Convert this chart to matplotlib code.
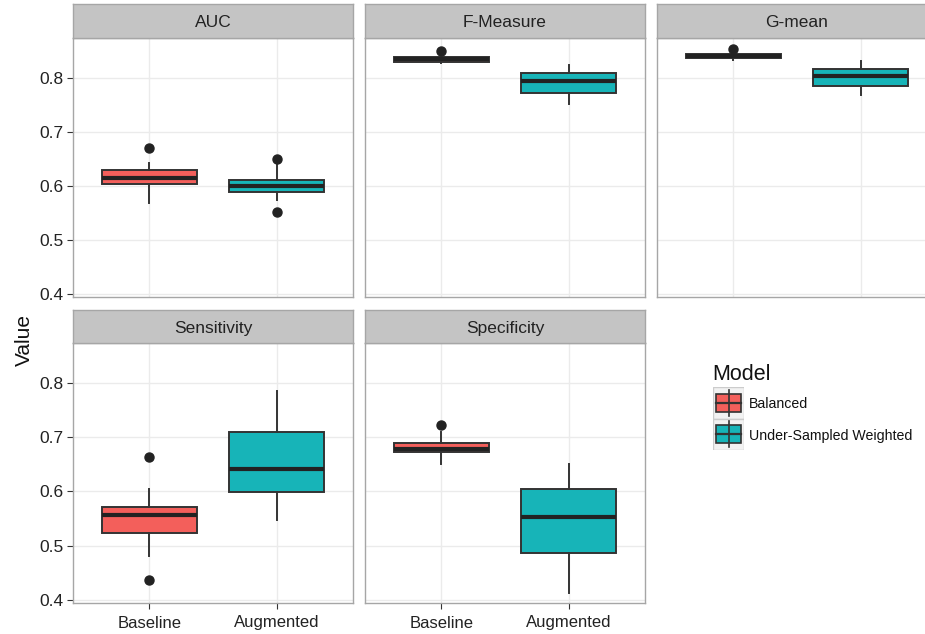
import matplotlib
matplotlib.use("Agg")
import matplotlib.pyplot as plt
from matplotlib.patches import Rectangle

plt.rcParams['font.family'] = ['Liberation Sans', 'DejaVu Sans']

metrics = ["AUC", "F-Measure", "G-mean", "Sensitivity", "Specificity"]
groups = ["Baseline", "Augmented"]
models = ["Balanced", "Under-Sampled Weighted"]
colors = ["#F35F5B", "#17B4B8"]

# five-number summaries per metric (Baseline / Balanced)
base_lo = [0.568, 0.827, 0.833, 0.480, 0.651]
base_q1 = [0.603, 0.830, 0.837, 0.524, 0.673]
base_med = [0.614, 0.835, 0.841, 0.556, 0.679]
base_q3 = [0.630, 0.839, 0.844, 0.572, 0.690]
base_hi = [0.643, 0.840, 0.845, 0.604, 0.709]
base_out = [[0.671], [0.849], [0.853], [0.664, 0.437], [0.722]]

# Augmented / Under-Sampled Weighted
aug_lo = [0.574, 0.752, 0.769, 0.548, 0.413]
aug_q1 = [0.588, 0.772, 0.785, 0.599, 0.486]
aug_med = [0.599, 0.794, 0.804, 0.642, 0.553]
aug_q3 = [0.611, 0.810, 0.817, 0.709, 0.604]
aug_hi = [0.638, 0.824, 0.831, 0.786, 0.651]
aug_out = [[0.649, 0.552], [], [], [], []]

yticks = [0.4, 0.5, 0.6, 0.7, 0.8]

W, H = 925, 634
fig = plt.figure(figsize=(W / 100, H / 100), dpi=100)


def px_axes(x0, y0, x1, y1):
    return fig.add_axes([x0 / W, 1 - y1 / H, (x1 - x0) / W, (y1 - y0) / H])


panel_x = [(73, 353), (365, 645), (657, 937), (73, 353), (365, 645)]
panel_y = [(4, 38, 297), (4, 38, 297), (4, 38, 297), (310, 343, 603), (310, 343, 603)]

border = "#A6A6A6"
for i, m in enumerate(metrics):
    x0, x1 = panel_x[i]
    ys, y0, y1 = panel_y[i]
    ax = px_axes(x0, y0, x1, y1)
    stats = [
        dict(whislo=base_lo[i], q1=base_q1[i], med=base_med[i], q3=base_q3[i],
             whishi=base_hi[i], fliers=base_out[i]),
        dict(whislo=aug_lo[i], q1=aug_q1[i], med=aug_med[i], q3=aug_q3[i],
             whishi=aug_hi[i], fliers=aug_out[i]),
    ]
    bp = ax.bxp(stats, positions=[1, 2], widths=0.75, patch_artist=True,
                showcaps=False,
                boxprops=dict(edgecolor="#333333", linewidth=1.4),
                whiskerprops=dict(color="#333333", linewidth=1.4),
                medianprops=dict(color="#222222", linewidth=3),
                flierprops=dict(marker="o", markersize=6.5, markerfacecolor="#222222",
                                markeredgecolor="#222222"))
    for patch, c in zip(bp["boxes"], colors):
        patch.set_facecolor(c)
    ax.set_xlim(0.4, 2.6)
    ax.set_ylim(0.394, 0.874)
    ax.set_yticks(yticks)
    ax.set_xticks([1, 2])
    ax.grid(True, color="#EBEBEB", linewidth=1)
    ax.set_axisbelow(True)
    for s in ax.spines.values():
        s.set_color(border)
        s.set_linewidth(1)
    ax.tick_params(axis="both", length=4, color="#333333", labelsize=12.5,
                   labelcolor="#222222", pad=3)
    if i in (0, 3):
        ax.set_yticklabels([f"{v:.1f}" for v in yticks])
    else:
        ax.tick_params(axis="y", length=0, labelleft=False)
    if i >= 3:
        ax.set_xticklabels(groups)
        ax.tick_params(axis="x", labelsize=12, pad=5)
    else:
        ax.tick_params(axis="x", length=0, labelbottom=False)

    # facet strip
    sax = px_axes(x0, ys, x1, y0)
    sax.set_facecolor("#C4C4C4")
    sax.set_xticks([])
    sax.set_yticks([])
    for s in sax.spines.values():
        s.set_color(border)
        s.set_linewidth(1)
    sax.text(0.5, 0.45, m, ha="center", va="center", fontsize=12.5,
             color="#222222", transform=sax.transAxes)

fig.text(24 / W, 1 - 340 / H, "Value", rotation=90, ha="center", va="center",
         fontsize=15, color="#111111")

# legend
fig.text(712 / W, 1 - 374 / H, "Model", ha="left", va="center", fontsize=15.5,
         color="#111111")
lax = px_axes(713, 387, 744, 450)
lax.set_xlim(0, 1)
lax.set_ylim(2, 0)
lax.axis("off")
for k, (lab, c) in enumerate(zip(models, colors)):
    lax.add_patch(Rectangle((0, k), 1, 1, facecolor="#F2F2F2", edgecolor="#CCCCCC",
                            linewidth=1))
    lax.plot([0.5, 0.5], [k + 0.08, k + 0.92], color="#333333", linewidth=1.2)
    lax.add_patch(Rectangle((0.1, k + 0.22), 0.8, 0.56, facecolor=c,
                            edgecolor="#333333", linewidth=1.2))
    lax.plot([0.1, 0.9], [k + 0.5, k + 0.5], color="#333333", linewidth=1.6)
    fig.text(749 / W, 1 - (404 + 32 * k) / H, lab, ha="left", va="center",
             fontsize=10.2, color="#111111")

fig.savefig("out.png", dpi=100)
